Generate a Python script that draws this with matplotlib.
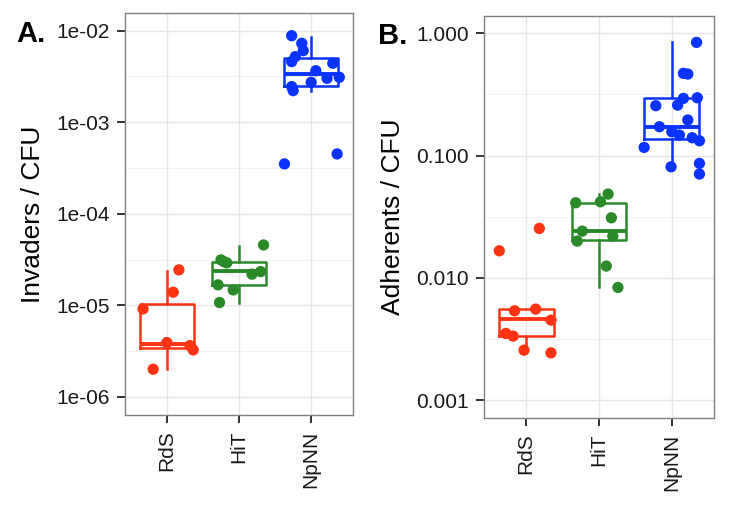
import matplotlib
matplotlib.use("Agg")
import matplotlib.pyplot as plt
import numpy as np

plt.rcParams['font.family'] = ['Liberation Sans', 'DejaVu Sans']

categories = ["RdS", "HiT", "NpNN"]
colors = ["#FF3311", "#2A8A2A", "#0A33FF"]

# ---- Panel A: Invaders / CFU (log10 values) ----
a_rds_log = [-4.612, -4.856, -5.038, -5.406, -5.439, -5.486, -5.697]
a_rds_jit = [0.167, 0.088, -0.33, 0.0, 0.32, 0.365, -0.19]
a_hit_log = [-4.340, -4.503, -4.522, -4.535, -4.659, -4.631, -4.776, -4.831, -4.969]
a_hit_jit = [0.34, -0.25, -0.21, -0.17, 0.18, 0.30, -0.29, -0.08, -0.27]
a_np_log = [-2.055, -2.138, -2.218, -2.284, -2.338, -2.356, -2.437, -2.52, -2.509,
            -2.563, -2.611, -2.655, -3.455, -3.346]
a_np_jit = [-0.27, -0.13, -0.11, -0.22, -0.27, 0.30, 0.065, 0.22, 0.39,
            0.0, -0.27, -0.25, -0.37, 0.36]
# box stats (log10): whislo, q1, med, q3, whishi
a_box_lo = [-5.69, -4.976, -2.655]
a_box_q1 = [-5.46, -4.776, -2.604]
a_box_med = [-5.42, -4.623, -2.473]
a_box_q3 = [-4.987, -4.522, -2.30]
a_box_hi = [-4.62, -4.347, -2.065]

# ---- Panel B: Adherents / CFU (log10 values) ----
b_rds_log = [-1.596, -1.779, -2.270, -2.256, -2.346, -2.455, -2.477, -2.592, -2.614]
b_rds_jit = [0.18, -0.37, -0.16, 0.13, 0.34, -0.28, -0.18, -0.03, 0.34]
b_hit_log = [-1.315, -1.378, -1.386, -1.509, -1.618, -1.659, -1.700, -1.904, -2.079]
b_hit_jit = [0.125, 0.02, -0.32, 0.17, -0.23, 0.19, -0.30, 0.10, 0.26]
b_np_log = [-0.074, -0.327, -0.333, -0.532, -0.527, -0.592, -0.587, -0.709, -0.764,
            -0.805, -0.832, -0.854, -0.879, -0.933, -1.092, -1.064, -1.151]
b_np_jit = [0.34, 0.16, 0.22, 0.16, 0.35, -0.22, 0.08, 0.22, -0.17,
            0.0, 0.105, 0.28, 0.38, -0.38, -0.01, 0.38, 0.38]
b_box_lo = [-2.592, -2.079, -1.119]
b_box_q1 = [-2.477, -1.692, -0.868]
b_box_med = [-2.340, -1.618, -0.764]
b_box_q3 = [-2.259, -1.386, -0.532]
b_box_hi = [-2.256, -1.315, -0.074]

a_ticks = [1e-6, 1e-5, 1e-4, 1e-3, 1e-2]
a_ticklabels = ["1e-06", "1e-05", "1e-04", "1e-03", "1e-02"]
b_ticks = [1e-3, 1e-2, 1e-1, 1.0]
b_ticklabels = ["0.001", "0.010", "0.100", "1.000"]

W, H = 729, 518
fig = plt.figure(figsize=(W / 100, H / 100), dpi=100)

def px_axes(x0, y0, x1, y1):
    return fig.add_axes([x0 / W, 1 - y1 / H, (x1 - x0) / W, (y1 - y0) / H])

axA = px_axes(125, 13, 353, 415)
axB = px_axes(484, 16, 714, 418)

def draw_panel(ax, groups, jits, lo, q1, med, q3, hi, ticks, ticklabels, ylim, ylabel):
    ax.set_yscale('log')
    ax.set_xlim(0.42, 3.58)
    ax.set_ylim(10 ** ylim[0], 10 ** ylim[1])
    # grid
    dec_lo = int(np.floor(ylim[0])); dec_hi = int(np.ceil(ylim[1]))
    minor = [10 ** (d + 0.5) for d in range(dec_lo, dec_hi)]
    for m in minor:
        ax.axhline(m, color="#F2F2F2", lw=0.8, zorder=0)
    for t in ticks:
        ax.axhline(t, color="#E6E6E6", lw=1.0, zorder=0)
    for i in range(3):
        ax.axvline(i + 1, color="#E6E6E6", lw=1.0, zorder=0)
    stats = []
    for i in range(3):
        stats.append(dict(whislo=10 ** lo[i], q1=10 ** q1[i], med=10 ** med[i],
                          q3=10 ** q3[i], whishi=10 ** hi[i], fliers=[]))
    for i in range(3):
        c = colors[i]
        ax.bxp([stats[i]], positions=[i + 1], widths=0.75, showfliers=False,
               showcaps=False, patch_artist=False,
               boxprops=dict(color=c, lw=1.8),
               whiskerprops=dict(color=c, lw=1.8),
               medianprops=dict(color=c, lw=2.8),
               manage_ticks=False)
        vals = 10 ** np.array(groups[i])
        xs = i + 1 + np.array(jits[i])
        ax.scatter(xs, vals, s=66, color=c, edgecolors='none', zorder=5)
    ax.set_yticks(ticks)
    ax.set_yticklabels(ticklabels)
    ax.yaxis.set_minor_locator(matplotlib.ticker.NullLocator())
    ax.set_xticks([1, 2, 3])
    ax.set_xticklabels(categories, rotation=90, va='top', ha='center')
    ax.tick_params(axis='both', length=6, width=1.4, color='#333333',
                   labelsize=15, labelcolor='#1a1a1a', pad=5)
    for s in ax.spines.values():
        s.set_color('#808080')
        s.set_linewidth(1.0)
    ax.set_ylabel(ylabel, fontsize=19, labelpad=8)

draw_panel(axA, [a_rds_log, a_hit_log, a_np_log], [a_rds_jit, a_hit_jit, a_np_jit],
           a_box_lo, a_box_q1, a_box_med, a_box_q3, a_box_hi,
           a_ticks, a_ticklabels, (-6.197, -1.807), "Invaders / CFU")
draw_panel(axB, [b_rds_log, b_hit_log, b_np_log], [b_rds_jit, b_hit_jit, b_np_jit],
           b_box_lo, b_box_q1, b_box_med, b_box_q3, b_box_hi,
           b_ticks, b_ticklabels, (-3.147, 0.142), "Adherents / CFU")

fig.text(16 / W, 1 - 34 / H, "A.", fontsize=21, fontweight='bold', va='center', ha='left')
fig.text(378 / W, 1 - 36 / H, "B.", fontsize=21, fontweight='bold', va='center', ha='left')

fig.savefig("out.png", dpi=100)
